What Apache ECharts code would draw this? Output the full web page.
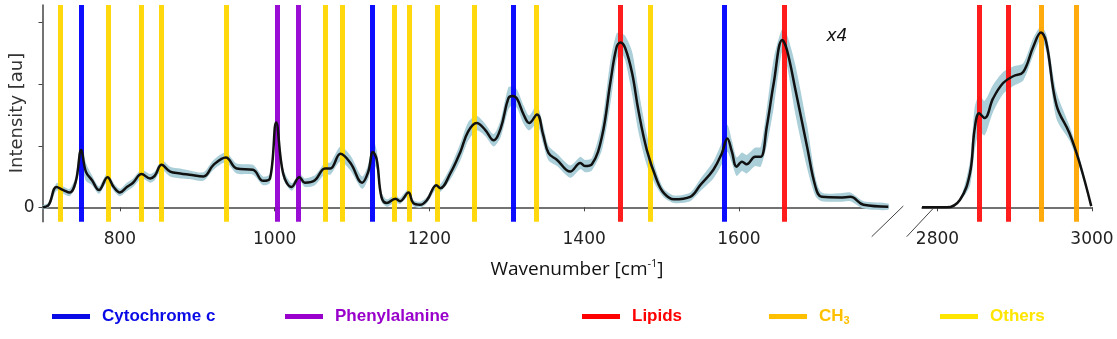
<!DOCTYPE html>
<html>
<head>
<meta charset="utf-8">
<script src="https://cdn.jsdelivr.net/npm/echarts@6/dist/echarts.min.js"></script>
<style>
    html, body { margin: 0; padding: 0; background: #fff; }
    #chart { width: 1117px; height: 339px; }
</style>
</head>
<body>
<div id="chart"></div>
<script>
// fingerprint region, 700 - 1800 cm-1
const lowWavenumbers = [700, 708, 718, 727, 735, 743, 750, 756, 764, 773,
    784, 792, 800, 809, 817, 828, 839, 845, 854, 865,
    878, 890, 908, 921, 937, 951, 972, 985, 994, 1002,
    1011, 1022, 1032, 1039, 1052, 1065, 1072, 1085, 1098, 1113,
    1121, 1127, 1132, 1138, 1145, 1156, 1162, 1173, 1179, 1188,
    1197, 1209, 1214, 1227, 1240, 1250, 1261, 1272, 1283, 1292,
    1302, 1307, 1313, 1322, 1329, 1339, 1347, 1354, 1365, 1382,
    1395, 1401, 1410, 1423, 1434, 1442, 1447, 1453, 1462, 1470,
    1481, 1494, 1503, 1516, 1537, 1550, 1567, 1578, 1585, 1591,
    1597, 1604, 1610, 1621, 1628, 1636, 1645, 1656, 1662, 1673,
    1688, 1699, 1707, 1731, 1744, 1761, 1793];
const lowMean = [0.00, 0.04, 0.33, 0.28, 0.24, 0.42, 0.93, 0.58, 0.44, 0.28,
    0.49, 0.33, 0.24, 0.33, 0.40, 0.54, 0.47, 0.51, 0.69, 0.58,
    0.55, 0.53, 0.50, 0.69, 0.81, 0.63, 0.61, 0.43, 0.47, 1.38,
    0.55, 0.33, 0.49, 0.40, 0.44, 0.63, 0.63, 0.87, 0.72, 0.40,
    0.58, 0.90, 0.77, 0.17, 0.07, 0.14, 0.10, 0.24, 0.07, 0.04,
    0.12, 0.36, 0.31, 0.55, 0.90, 1.23, 1.37, 1.26, 1.09, 1.28,
    1.77, 1.81, 1.77, 1.50, 1.37, 1.51, 1.18, 0.88, 0.77, 0.58,
    0.72, 0.67, 0.70, 1.15, 2.04, 2.61, 2.68, 2.59, 2.18, 1.58,
    0.93, 0.44, 0.23, 0.13, 0.17, 0.36, 0.61, 0.88, 1.12, 0.90,
    0.66, 0.74, 0.70, 0.82, 0.82, 1.31, 2.02, 2.72, 2.56, 1.91,
    0.99, 0.33, 0.17, 0.16, 0.17, 0.04, 0.01];
const lowSpread = [0.03, 0.04, 0.06, 0.06, 0.06, 0.08, 0.25, 0.15, 0.08, 0.06,
    0.07, 0.06, 0.06, 0.07, 0.07, 0.07, 0.07, 0.07, 0.08, 0.08,
    0.08, 0.07, 0.07, 0.08, 0.08, 0.08, 0.08, 0.07, 0.07, 0.10,
    0.08, 0.06, 0.06, 0.07, 0.08, 0.09, 0.10, 0.12, 0.12, 0.10,
    0.12, 0.20, 0.15, 0.08, 0.06, 0.06, 0.05, 0.06, 0.05, 0.05,
    0.05, 0.06, 0.06, 0.10, 0.14, 0.15, 0.12, 0.10, 0.10, 0.14,
    0.18, 0.15, 0.15, 0.15, 0.12, 0.15, 0.15, 0.12, 0.10, 0.10,
    0.10, 0.10, 0.10, 0.22, 0.35, 0.22, 0.15, 0.20, 0.35, 0.35,
    0.25, 0.12, 0.07, 0.06, 0.07, 0.10, 0.14, 0.18, 0.22, 0.18,
    0.15, 0.15, 0.15, 0.15, 0.16, 0.30, 0.40, 0.18, 0.25, 0.40,
    0.35, 0.15, 0.07, 0.07, 0.07, 0.06, 0.05];

// high wavenumber region (x4)
const highWavenumbers = [2780, 2812, 2829, 2842, 2848, 2854, 2861, 2872, 2885, 2898,
    2911, 2924, 2934, 2941, 2954, 2971, 2984, 2999];
const highMean = [0.00, 0.00, 0.12, 0.55, 1.26, 1.53, 1.45, 1.77, 2.02, 2.13,
    2.20, 2.61, 2.84, 2.67, 1.66, 1.20, 0.72, 0.02];
const highSpread = [0.00, 0.00, 0.02, 0.20, 0.35, 0.30, 0.28, 0.22, 0.18, 0.16,
    0.14, 0.14, 0.10, 0.14, 0.22, 0.12, 0.08, 0.01];

// band assignments
const cytochromeLow = [750, 1126, 1308, 1581];
const phenylalanineLow = [1003, 1031];
const lipidsLow = [1446, 1658];
const lipidsHigh = [2854, 2891];
const ch3High = [2934, 2979];
const othersLow = [723, 785, 827, 854, 937, 1066, 1087, 1155, 1174, 1210, 1258, 1338, 1486];

const lowTicks = [800, 1000, 1200, 1400, 1600];
const highTicks = [2800, 3000];
const yTicks = [0, 1, 2, 3];
const yLabels = [0];

const legendNames = ['Cytochrome c', 'Phenylalanine', 'Lipids', 'CH3', 'Others'];

const colors = {
    'Cytochrome c': '#0000ff',
    'Phenylalanine': '#9400d3',
    'Lipids': '#ff1010',
    'CH3': '#ffa500',
    'Others': '#ffd700'
};
const legendColors = {
    'Cytochrome c': '#0a0ae6',
    'Phenylalanine': '#9900cc',
    'Lipids': '#ff0000',
    'CH3': '#ffc000',
    'Others': '#ffe600'
};
const legendLeft = [47, 280, 577, 764, 935];

const axisColor = '#444';
const bandColor = '#abcfd9';

const pairs = (xs, ys) => xs.map((x, i) => [x, ys[i]]);

// shaded spread (mean +- sd) as one polygon, projected through the axes
const bandSeries = (xs, mean, spread, idx) => ({
    type: 'custom',
    xAxisIndex: idx,
    yAxisIndex: idx,
    silent: true,
    z: 1,
    data: xs.map((x, i) => [x, mean[i] - spread[i], mean[i] + spread[i]]),
    encode: { x: 0, y: [1, 2] },
    renderItem: (params, api) => {
        if (params.dataIndex !== 0) return;
        const upper = xs.map((x, i) => api.coord([x, mean[i] + spread[i]]));
        const lower = xs.map((x, i) => api.coord([x, mean[i] - spread[i]])).reverse();
        return {
            type: 'polygon',
            shape: { points: upper.concat(lower), smooth: 0.25 },
            style: { fill: bandColor }
        };
    }
});

const meanSeries = (xs, mean, idx) => ({
    type: 'line',
    xAxisIndex: idx,
    yAxisIndex: idx,
    smooth: 0.4,
    symbol: 'none',
    silent: true,
    z: 5,
    lineStyle: { color: '#111', width: 2.5 },
    data: pairs(xs, mean)
});

const markerSeries = (name, positions, idx) => ({
    name: name,
    type: 'line',
    xAxisIndex: idx,
    yAxisIndex: idx,
    data: [],
    z: 3,
    itemStyle: { color: colors[name] },
    markLine: {
        silent: true,
        symbol: 'none',
        label: { show: false },
        lineStyle: { color: colors[name], width: 5, type: 'solid', opacity: 0.95 },
        data: positions.map(p => ({ xAxis: p }))
    }
});

const xAxisBase = (min, max, ticks, idx) => ({
    type: 'value',
    gridIndex: idx,
    min: min,
    max: max,
    axisLine: { show: true, lineStyle: { color: axisColor, width: 1.5 } },
    axisTick: { show: true, length: 4, lineStyle: { color: axisColor }, customValues: ticks },
    axisLabel: {
        customValues: ticks,
        formatter: v => String(v),
        color: '#222',
        fontFamily: 'DejaVu Sans',
        fontSize: 17,
        margin: 9
    },
    splitLine: { show: false }
});

const yMin = -0.234;
const yMax = 3.288;

const chart = echarts.init(document.getElementById('chart'), null, { renderer: 'canvas' });

const option = {
    animation: false,
    backgroundColor: '#fff',
    grid: [
        { left: 42.5, top: 5, width: 845, height: 216.7 },
        { left: 922, top: 5, width: 170, height: 216.7 }
    ],
    xAxis: [
        xAxisBase(700, 1792, lowTicks, 0),
        xAxisBase(2780, 3000, highTicks, 1)
    ],
    yAxis: [{
            type: 'value',
            gridIndex: 0,
            min: yMin,
            max: yMax,
            axisLine: { show: true, lineStyle: { color: axisColor, width: 1.5 } },
            axisTick: { show: true, length: 4, lineStyle: { color: axisColor }, customValues: yTicks },
            axisLabel: {
                customValues: yLabels,
                color: '#222',
                fontFamily: 'DejaVu Sans',
                fontSize: 17,
                margin: 8
            },
            splitLine: { show: false }
        },
        {
            type: 'value',
            gridIndex: 1,
            min: yMin,
            max: yMax,
            show: false,
            splitLine: { show: false }
        }
    ],
    legend: legendNames.map((name, i) => ({
        left: legendLeft[i],
        top: 303,
        selectedMode: false,
        itemWidth: 38,
        itemHeight: 5,
        data: [{ name: name, icon: 'rect', itemStyle: { color: legendColors[name] } }],
        formatter: n => n === 'CH3' ? '{a|CH}{s|3}' : n,
        textStyle: {
            color: legendColors[name],
            fontFamily: 'Liberation Sans',
            fontWeight: 'bold',
            fontSize: 17,
            padding: [0, 0, 0, 7],
            rich: {
                a: { color: legendColors[name], fontFamily: 'Liberation Sans', fontWeight: 'bold', fontSize: 17 },
                s: { color: legendColors[name], fontFamily: 'Liberation Sans', fontWeight: 'bold', fontSize: 11, verticalAlign: 'bottom', padding: [8, 0, 0, 0] }
            }
        }
    })),
    graphic: [{
            type: 'text',
            x: 17,
            y: 113,
            rotation: Math.PI / 2,
            style: {
                text: 'Intensity [au]',
                align: 'center',
                verticalAlign: 'middle',
                fill: '#333',
                font: '18px "DejaVu Sans"'
            }
        },
        {
            type: 'text',
            x: 577,
            y: 270,
            style: {
                text: '{a|Wavenumber [cm}{s|-1}{a|]}',
                align: 'center',
                verticalAlign: 'middle',
                rich: {
                    a: { fill: '#111', fontFamily: 'Open Sans', fontSize: 19, lineHeight: 24 },
                    s: { fill: '#111', fontFamily: 'Open Sans', fontSize: 11, lineHeight: 24, verticalAlign: 'top' }
                }
            }
        },
        {
            type: 'text',
            x: 837,
            y: 37,
            style: {
                text: 'x4',
                align: 'center',
                verticalAlign: 'middle',
                fill: '#111',
                font: 'italic 17px "DejaVu Sans"'
            }
        },
        // axis break marks
        {
            type: 'line',
            z: 100,
            shape: { x1: 871.7, y1: 236.7, x2: 903.3, y2: 206 },
            style: { stroke: axisColor, lineWidth: 1 }
        },
        {
            type: 'line',
            z: 100,
            shape: { x1: 906.7, y1: 236.7, x2: 933.3, y2: 208.3 },
            style: { stroke: axisColor, lineWidth: 1 }
        }
    ],
    series: [
        bandSeries(lowWavenumbers, lowMean, lowSpread, 0),
        bandSeries(highWavenumbers, highMean, highSpread, 1),
        markerSeries('Cytochrome c', cytochromeLow, 0),
        markerSeries('Phenylalanine', phenylalanineLow, 0),
        markerSeries('Lipids', lipidsLow, 0),
        markerSeries('Lipids', lipidsHigh, 1),
        markerSeries('CH3', ch3High, 1),
        markerSeries('Others', othersLow, 0),
        meanSeries(lowWavenumbers, lowMean, 0),
        meanSeries(highWavenumbers, highMean, 1)
    ]
};

chart.setOption(option);
</script>
</body>
</html>
